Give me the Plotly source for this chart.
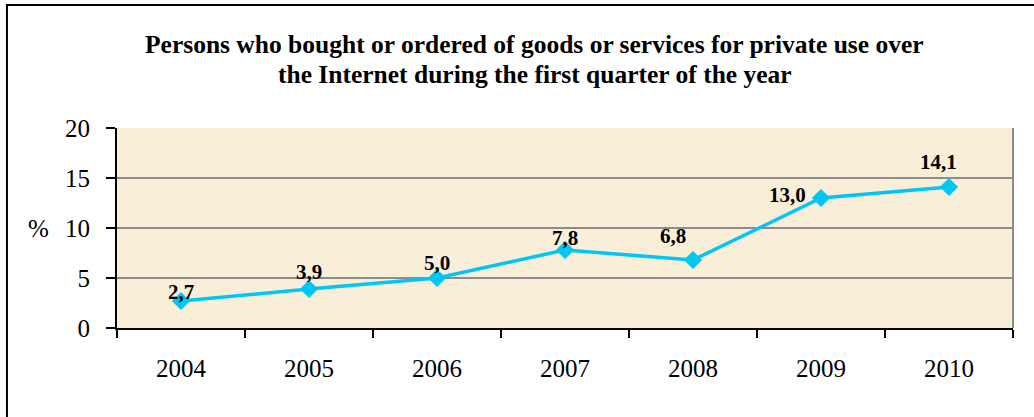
import plotly.graph_objects as go

# Share of persons buying goods/services online in Q1, by year
years = ["2004", "2005", "2006", "2007", "2008", "2009", "2010"]
share = [2.7, 3.9, 5.0, 7.8, 6.8, 13.0, 14.1]
value_labels = ["2,7", "3,9", "5,0", "7,8", "6,8", "13,0", "14,1"]
y_ticks = [0, 5, 10, 15, 20]

title_lines = [
    "Persons who bought or ordered of goods or services for private use over",
    "the Internet during the first quarter of the year",
]

SERIF = "Liberation Serif, Times New Roman, serif"
LINE_COLOR = "#00C6F6"

# label offsets (pixels) relative to each point
label_dx = [0, 0, 0, 0, -20, -34, -11]
label_dy = [-5, 3, 1, -2, 10, 3, 11]
label_anchor = ["bottom", "bottom", "bottom", "bottom", "bottom", "middle", "bottom"]

fig = go.Figure()
fig.add_trace(go.Scatter(
    x=years, y=share, mode="lines+markers",
    line=dict(color=LINE_COLOR, width=3.5),
    marker=dict(symbol="diamond", size=14, color=LINE_COLOR),
    hoverinfo="skip", showlegend=False,
))

annotations = []
for i, (v, lab, dx, dy, anc) in enumerate(zip(share, value_labels, label_dx, label_dy, label_anchor)):
    annotations.append(dict(
        x=i, y=v, xref="x", yref="y", text=f"<b>{lab}</b>", showarrow=False,
        xanchor="center", yanchor=anc, xshift=dx, yshift=dy,
        font=dict(family=SERIF, size=21, color="black"),
    ))

# chart title, one annotation per line
for line, ypos in zip(title_lines, [1.42, 1.27]):
    annotations.append(dict(
        x=0.4665, y=ypos, xref="paper", yref="paper", text=f"<b>{line}</b>",
        showarrow=False, xanchor="center", yanchor="middle",
        font=dict(family=SERIF, size=25.5, color="black"),
    ))
# unit label
annotations.append(dict(
    x=-0.088, y=0.5, xref="paper", yref="paper", text="%", showarrow=False,
    xanchor="center", yanchor="middle",
    font=dict(family=SERIF, size=25, color="black"),
))

shapes = [
    # gray frame on the right edge of the plotting area
    dict(type="line", xref="paper", yref="paper", x0=1, x1=1, y0=0, y1=1,
         line=dict(color="#8C8C8C", width=2), layer="above"),
    # outer chart border
    dict(type="rect", xref="paper", yref="paper",
         x0=-0.1228, x1=1.04, y0=-0.55, y1=1.615,
         line=dict(color="black", width=2), layer="above"),
]

fig.update_layout(
    width=1034, height=417,
    margin=dict(l=117, r=21, t=128, b=89),
    paper_bgcolor="white",
    plot_bgcolor="#F9EFD8",
    annotations=annotations,
    shapes=shapes,
    xaxis=dict(
        type="category", range=[-0.5, 6.5],
        showgrid=False, showline=True, linecolor="black", linewidth=2,
        ticks="outside", tickson="boundaries", ticklen=8, tickwidth=2, tickcolor="black",
        tickfont=dict(family=SERIF, size=25, color="black"),
        ticklabelstandoff=17,
        zeroline=False,
    ),
    yaxis=dict(
        range=[0, 20], tickvals=y_ticks, ticktext=[str(t) for t in y_ticks],
        showgrid=True, gridcolor="#8C8C8C", gridwidth=1.5,
        showline=True, linecolor="black", linewidth=2,
        ticks="outside", ticklen=9, tickwidth=2, tickcolor="black",
        tickfont=dict(family=SERIF, size=25, color="black"),
        ticklabelstandoff=11,
        zeroline=False,
    ),
)

fig.write_html("out.html")
